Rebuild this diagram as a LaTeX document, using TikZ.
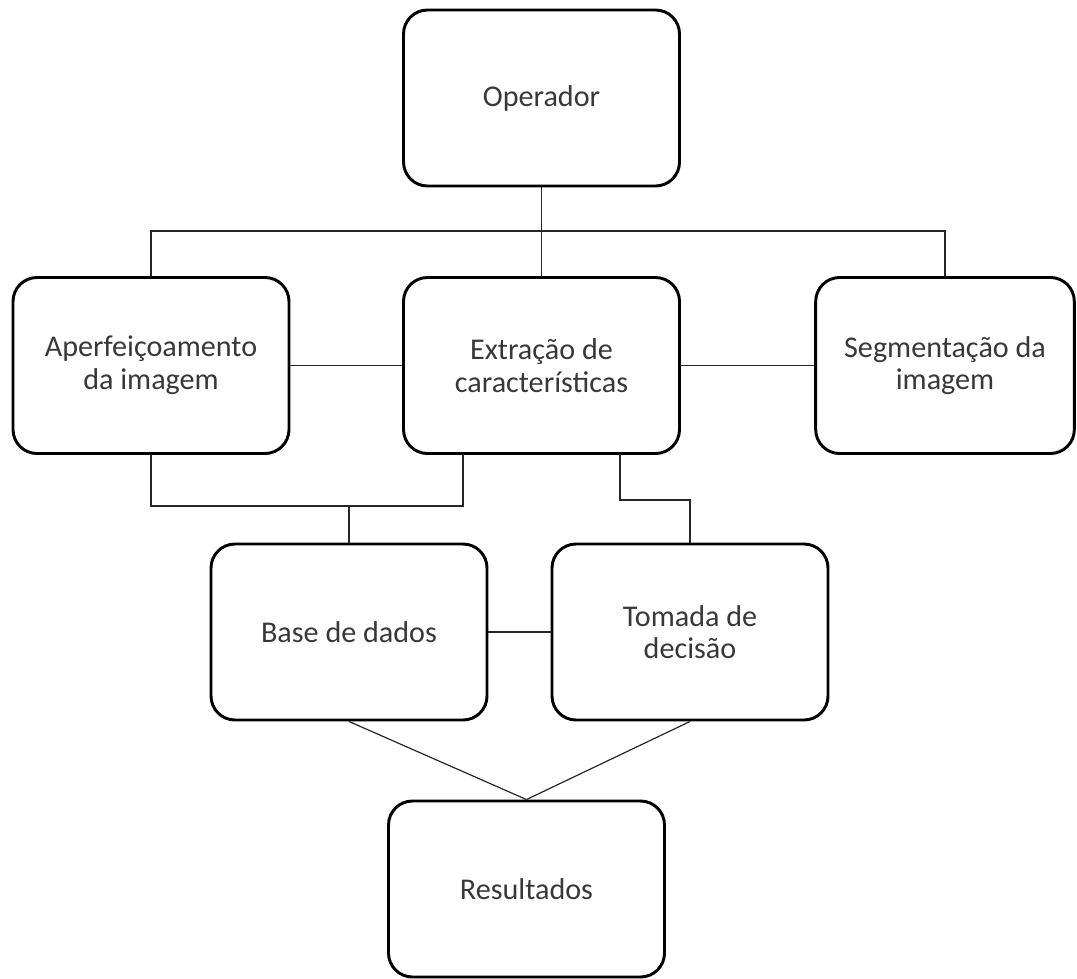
\documentclass[tikz,border=0pt]{standalone}
\usepackage{fontspec}
\setmainfont{Carlito}
\usepackage{tikz}
\usetikzlibrary{shapes,arrows,positioning}

\tikzset{caixa/.style={draw=black, line width=2.2pt, rounded corners=18pt,
  minimum width=207pt, minimum height=132pt, align=center, text=black!78,
  font=\fontsize{22.6}{24.5}\selectfont},
  liga/.style={draw=black!85, line width=0.9pt}}

\begin{document}
\begin{tikzpicture}[x=0.75pt,y=-0.75pt]
\useasboundingbox (0,0) rectangle (1077,978);
\node[caixa] (op) at (541.5,98)  {Operador};
\node[caixa] (ap) at (151,365.5) {Aperfeiçoamento\\da imagem};
\node[caixa] (ex) at (541.5,365.5) {Extração de\\características};
\node[caixa, minimum width=194pt] (se) at (945,365.5) {Segmentação da\\imagem};
\node[caixa] (bd) at (349,632) {Base de dados};
\node[caixa] (td) at (690,632) {Tomada de\\decisão};
\node[caixa] (re) at (526.5,889) {Resultados};
\coordinate (topo) at (541.5,231);
\coordinate (exA) at (463,454);
\coordinate (exB) at (620,454);
\coordinate (bA) at (349,506);
\draw[liga] (op.south) -- (ex.north);
\draw[liga] (ap.north) |- (topo) -| (se.north);
\draw[liga] (ap.east) -- (ex.west);
\draw[liga] (ex.east) -- (se.west);
\draw[liga] (ap.south) |- (bA) -| (exA);
\draw[liga] (bA) -- (bd.north);
\draw[liga] (exB) |- (td.north |- 0,500) -- (td.north);
\draw[liga] (bd.east) -- (td.west);
\draw[liga] (bd.south) -- (re.north);
\draw[liga] (td.south) -- (re.north);
\end{tikzpicture}
\end{document}
